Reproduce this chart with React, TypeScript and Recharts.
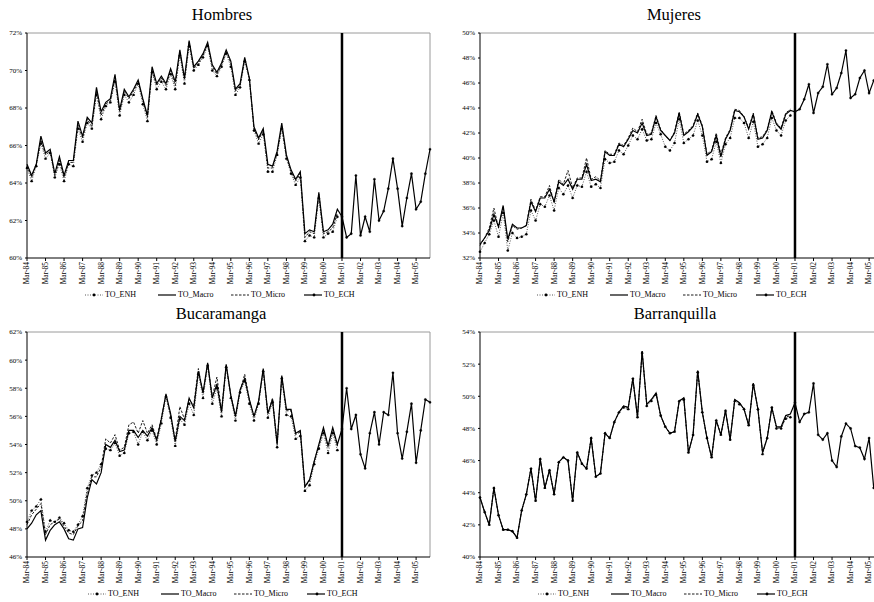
import React from "react";
import { Line, LineChart, ReferenceLine, XAxis, YAxis } from "recharts";

const years = ["84", "85", "86", "87", "88", "89", "90", "91", "92", "93", "94", "95", "96", "97", "98", "99", "00", "01", "02", "03", "04", "05"];
const quarters = ["Mar", "Jun", "Sep", "Dec"];
const categories = years.flatMap((y) => quarters.map((q) => `${q}-${y}`));
const tickLabels = years.map((y) => `Mar-${y}`);
const echStart = categories.indexOf("Mar-01");

// Hombres
const hombresEnh = [
  64.8, 64.1, 64.9, 66.1, 65.3, 65.6, 64.3, 65.0, 64.1, 65.0,
  64.9, 66.9, 66.2, 67.2, 66.9, 68.7, 67.4, 68.1, 68.3, 69.4,
  67.6, 68.7, 68.3, 68.7, 69.3, 68.2, 67.3, 69.9, 69.0, 69.4,
  69.0, 69.8, 69.0, 70.8, 69.3, 71.3, 70.0, 70.3, 70.7, 71.3,
  70.0, 69.7, 70.2, 70.9, 70.2, 68.7, 69.1, 70.5, 69.5, 66.8,
  66.1, 66.6, 64.6, 64.6, 65.5, 66.9, 65.3, 64.5, 63.9, 64.3,
  60.9, 61.2, 61.1, 63.2, 61.1, 61.3, 61.4, 62.2,
];
const hombresMacro = [
  65.0, 64.4, 65.0, 66.5, 65.6, 65.8, 64.5, 65.4, 64.4, 65.2,
  65.2, 67.3, 66.5, 67.5, 67.2, 69.1, 67.8, 68.3, 68.5, 69.8,
  67.9, 69.0, 68.6, 69.0, 69.5, 68.5, 67.6, 70.2, 69.3, 69.7,
  69.3, 70.1, 69.4, 71.1, 69.6, 71.6, 70.2, 70.5, 70.9, 71.5,
  70.3, 69.9, 70.4, 71.1, 70.5, 69.0, 69.3, 70.7, 69.6, 67.0,
  66.4, 66.9, 65.0, 64.9, 65.7, 67.2, 65.5, 64.7, 64.2, 64.6,
  61.3, 61.5, 61.4, 63.5, 61.4, 61.5, 61.8, 62.6, 62.2,
];
const hombresMicro = [
  64.9, 64.3, 65.0, 66.3, 65.5, 65.7, 64.4, 65.2, 64.3, 65.1,
  65.1, 67.1, 66.4, 67.4, 67.0, 68.9, 67.6, 68.2, 68.4, 69.6,
  67.8, 68.9, 68.5, 68.9, 69.4, 68.4, 67.5, 70.0, 69.2, 69.6,
  69.2, 70.0, 69.2, 71.0, 69.5, 71.5, 70.1, 70.4, 70.8, 71.4,
  70.2, 69.8, 70.3, 71.0, 70.4, 68.9, 69.2, 70.6, 69.6, 66.9,
  66.3, 66.8, 64.8, 64.8, 65.6, 67.0, 65.4, 64.6, 64.1, 64.5,
  61.1, 61.4, 61.3, 63.4, 61.3, 61.4, 61.6, 62.4,
];
const hombresEch = [62.2, 61.1, 61.3, 64.4, 61.2, 62.2, 61.4, 64.2, 62.0, 62.5, 63.7, 65.3, 63.7, 61.7, 63.2, 64.5, 62.6, 63.0, 64.5, 65.8];

// Mujeres
const mujeresEnh = [
  32.5, 33.2, 33.9, 35.0, 33.7, 35.6, 32.6, 34.0, 33.6, 33.7,
  33.9, 35.8, 35.0, 36.3, 36.1, 37.0, 35.8, 37.6, 37.1, 37.8,
  36.8, 37.8, 37.7, 38.9, 37.7, 37.9, 37.6, 39.9, 39.6, 39.7,
  40.6, 40.3, 41.0, 41.8, 41.5, 42.3, 41.4, 41.5, 42.8, 41.9,
  40.9, 40.6, 41.2, 43.1, 41.2, 41.5, 41.8, 43.0, 41.8, 39.7,
  39.9, 41.3, 39.6, 41.1, 41.6, 43.2, 43.2, 42.8, 41.6, 42.9,
  40.9, 41.1, 41.6, 43.2, 42.2, 41.8, 43.0, 43.4,
];
const mujeresMacro = [
  33.1, 33.6, 34.2, 35.5, 34.5, 36.2, 33.5, 34.7, 34.4, 34.4,
  34.6, 36.5, 35.7, 36.8, 36.8, 37.5, 36.5, 38.1, 37.8, 38.3,
  37.5, 38.3, 38.3, 39.5, 38.2, 38.3, 38.1, 40.5, 40.2, 40.2,
  41.1, 40.9, 41.5, 42.2, 42.0, 42.8, 41.8, 41.9, 43.3, 42.2,
  41.8, 41.4, 42.0, 43.6, 41.8, 42.1, 42.5, 43.5, 42.5, 40.2,
  40.5, 41.8, 40.1, 41.5, 42.2, 43.8, 43.7, 43.3, 42.3, 43.5,
  41.5, 41.6, 42.2, 43.7, 42.7, 42.3, 43.5, 43.8, 43.7,
];
const mujeresMicro = [
  33.0, 33.6, 34.4, 36.0, 34.4, 36.1, 33.3, 34.6, 34.3, 34.4,
  34.6, 36.7, 35.8, 36.9, 36.9, 37.8, 36.4, 38.3, 37.9, 39.0,
  37.6, 38.4, 38.4, 40.0, 38.3, 38.5, 38.2, 40.6, 40.3, 40.3,
  41.2, 41.0, 41.6, 42.4, 42.1, 43.1, 41.9, 42.0, 43.4, 42.3,
  41.8, 41.4, 42.1, 43.7, 41.9, 42.2, 42.6, 43.6, 42.6, 40.3,
  40.6, 42.0, 40.3, 41.6, 42.3, 43.9, 43.8, 43.3, 42.4, 43.6,
  41.6, 41.7, 42.3, 43.8, 42.8, 42.4, 43.6, 43.9,
];
const mujeresEch = [43.7, 43.9, 44.7, 45.9, 43.6, 45.2, 45.7, 47.5, 45.1, 45.6, 46.8, 48.6, 44.8, 45.1, 46.4, 47.0, 45.2, 46.2, 46.6, 47.1];

// Bucaramanga
const bucaEnh = [
  48.5, 49.3, 49.6, 50.1, 47.8, 48.6, 48.5, 48.8, 48.4, 47.9,
  47.8, 48.3, 48.9, 50.9, 51.8, 52.0, 52.6, 53.7, 53.6, 54.1,
  53.2, 53.4, 54.8, 54.9, 54.0, 54.9, 54.3, 55.0, 54.0, 55.5,
  57.4, 55.9, 53.9, 55.8, 55.4, 56.9, 56.1, 59.0, 57.3, 59.6,
  56.9, 58.0, 56.0, 59.5, 57.3, 55.7, 57.7, 58.5, 56.9, 55.7,
  56.9, 59.2, 55.9, 57.0, 53.8, 58.7, 56.1, 56.0, 54.4, 54.6,
  50.7, 51.1, 52.6, 53.7, 54.8, 53.4, 54.8, 53.6,
];
const bucaMacro = [
  48.0, 48.4, 49.0, 49.3, 47.2, 47.9, 48.3, 48.5, 48.0, 47.3,
  47.2, 48.0, 48.1, 50.2, 51.5, 51.2, 52.0, 54.0, 53.8, 54.3,
  53.5, 53.6, 55.0, 55.0, 54.5, 55.0, 54.6, 55.2, 54.3, 55.8,
  57.6, 56.2, 54.2, 56.0, 55.7, 57.3, 56.6, 59.2, 57.7, 59.8,
  57.3, 58.3, 56.3, 59.7, 57.5, 56.0, 57.9, 58.7, 57.2, 56.0,
  57.1, 59.4, 56.2, 57.2, 54.0, 58.9, 56.5, 56.5, 54.8, 55.0,
  51.0, 51.5, 52.8, 54.0, 55.2, 53.9, 55.2, 54.0, 55.1,
];
const bucaMicro = [
  48.3, 49.0, 49.4, 49.8, 47.6, 48.3, 48.5, 48.7, 48.2, 47.7,
  47.6, 48.2, 48.6, 50.6, 51.7, 51.7, 52.4, 54.4, 54.1, 54.7,
  53.6, 53.8, 55.4, 55.6, 54.8, 55.7, 54.8, 55.4, 54.4, 55.9,
  57.5, 56.1, 54.3, 56.7, 55.8, 57.2, 56.8, 59.4, 57.6, 59.7,
  57.4, 58.8, 56.4, 59.6, 57.5, 56.0, 57.8, 59.0, 57.2, 56.0,
  57.0, 59.3, 56.2, 57.3, 54.1, 58.8, 56.4, 56.4, 54.7, 54.9,
  51.0, 51.4, 52.8, 53.9, 55.1, 53.8, 55.1, 53.9,
];
const bucaEch = [55.1, 58.0, 55.1, 56.1, 53.3, 52.3, 54.8, 56.3, 54.0, 56.3, 56.1, 59.1, 54.8, 53.0, 54.9, 56.9, 52.7, 55.0, 57.2, 57.0];

// Barranquilla
const barraEnh = [
  43.7, 42.8, 42.0, 44.3, 42.6, 41.7, 41.7, 41.6, 41.2, 42.9,
  43.9, 45.5, 43.5, 46.1, 44.3, 45.4, 43.9, 45.9, 46.2, 46.0,
  43.5, 46.5, 45.8, 45.5, 47.4, 45.0, 45.2, 47.7, 47.4, 48.4,
  49.0, 49.3, 49.2, 51.1, 48.7, 52.7, 49.4, 49.7, 50.1, 48.8,
  48.1, 47.7, 47.8, 49.7, 49.8, 46.5, 47.6, 51.5, 49.0, 47.4,
  46.2, 48.5, 47.6, 49.1, 47.3, 49.7, 49.5, 49.2, 48.2, 50.7,
  49.2, 46.4, 47.4, 49.3, 48.0, 48.0, 48.6, 48.7,
];
const barraMacro = [
  43.7, 42.8, 42.0, 44.3, 42.6, 41.7, 41.7, 41.6, 41.2, 42.9,
  43.9, 45.5, 43.5, 46.1, 44.3, 45.4, 43.9, 45.9, 46.2, 46.0,
  43.5, 46.5, 45.8, 45.5, 47.4, 45.0, 45.2, 47.7, 47.4, 48.4,
  49.0, 49.4, 49.3, 51.1, 48.7, 52.8, 49.5, 49.8, 50.2, 48.8,
  48.1, 47.7, 47.8, 49.7, 49.9, 46.5, 47.6, 51.6, 49.0, 47.4,
  46.2, 48.5, 47.6, 49.1, 47.3, 49.8, 49.6, 49.2, 48.2, 50.8,
  49.2, 46.5, 47.4, 49.3, 48.1, 48.1, 48.8, 48.9, 49.6,
];
const barraMicro = [
  43.7, 42.8, 42.0, 44.3, 42.6, 41.7, 41.7, 41.6, 41.2, 42.9,
  43.9, 45.5, 43.5, 46.1, 44.3, 45.4, 43.9, 45.9, 46.2, 46.0,
  43.5, 46.5, 45.8, 45.5, 47.4, 45.0, 45.2, 47.7, 47.4, 48.4,
  49.0, 49.4, 49.3, 51.1, 48.7, 52.8, 49.5, 49.8, 50.2, 48.8,
  48.1, 47.7, 47.8, 49.7, 49.9, 46.5, 47.6, 51.6, 49.0, 47.4,
  46.2, 48.5, 47.6, 49.1, 47.3, 49.8, 49.6, 49.2, 48.2, 50.8,
  49.2, 46.5, 47.4, 49.3, 48.1, 48.0, 48.7, 48.8,
];
const barraEch = [49.6, 48.4, 48.9, 49.0, 50.8, 47.6, 47.3, 47.7, 46.0, 45.6, 47.5, 48.3, 48.0, 46.9, 46.8, 46.1, 47.4, 44.3, 44.0, 44.6];

const hombresTicks = [60, 62, 64, 66, 68, 70, 72];
const mujeresTicks = [32, 34, 36, 38, 40, 42, 44, 46, 48, 50];
const bucaTicks = [46, 48, 50, 52, 54, 56, 58, 60, 62];
const barraTicks = [40, 42, 44, 46, 48, 50, 52, 54];

const legendNames = ["TO_ENH", "TO_Macro", "TO_Micro", "TO_ECH"];

const FONT = '"Liberation Serif", "Times New Roman", serif';

function buildRows(enh: number[], macro: number[], micro: number[], ech: number[]) {
  return categories.map((label, i) => ({
    label,
    enh: i < enh.length ? enh[i] : null,
    macro: i < macro.length ? macro[i] : null,
    micro: i < micro.length ? micro[i] : null,
    ech: i >= echStart ? ech[i - echStart] : null,
  }));
}

function RotatedTick(props: any) {
  const { x, y, payload } = props;
  return (
    <text
      x={x}
      y={y}
      transform={`rotate(-90, ${x}, ${y})`}
      textAnchor="end"
      dy="0.32em"
      fontSize={7.5}
      fontFamily={FONT}
      fill="#000"
    >
      {payload.value}
    </text>
  );
}

function LegendSample({ kind }: { kind: number }) {
  return (
    <svg width={18} height={8} style={{ display: "block" }}>
      {kind === 0 && (
        <>
          <line x1={0} y1={4} x2={18} y2={4} stroke="#444" strokeWidth={0.9} strokeDasharray="1 1.5" />
          <circle cx={9} cy={4} r={1.4} fill="#000" />
        </>
      )}
      {kind === 1 && <line x1={0} y1={4} x2={18} y2={4} stroke="#000" strokeWidth={1.2} />}
      {kind === 2 && <line x1={0} y1={4} x2={18} y2={4} stroke="#000" strokeWidth={0.9} strokeDasharray="2.5 1.5" />}
      {kind === 3 && (
        <>
          <line x1={0} y1={4} x2={18} y2={4} stroke="#000" strokeWidth={1.2} />
          <circle cx={10} cy={4} r={1.4} fill="#000" />
        </>
      )}
    </svg>
  );
}

interface PanelProps {
  title: string;
  left: number;
  top: number;
  yAxisWidth: number;
  titleX: number;
  legendX: number;
  domain: [number, number];
  ticks: number[];
  data: ReturnType<typeof buildRows>;
}

function Panel({ title, left, top, yAxisWidth, titleX, legendX, domain, ticks, data }: PanelProps) {
  const width = yAxisWidth + 403 + 10;
  return (
    <>
      <div
        style={{
          position: "absolute",
          left: titleX - 100,
          top: top + 5,
          width: 200,
          textAlign: "center",
          fontSize: 16.5,
          lineHeight: "20px",
        }}
      >
        {title}
      </div>
      <div style={{ position: "absolute", left, top }}>
        <LineChart width={width} height={286} data={data} margin={{ top: 33, right: 10, bottom: 0, left: 0 }}>
          <XAxis
            dataKey="label"
            ticks={tickLabels}
            interval={0}
            tick={<RotatedTick />}
            tickSize={3}
            tickMargin={1}
            height={28}
            stroke="#000"
            tickLine={{ stroke: "#000" }}
          />
          <YAxis
            domain={domain}
            ticks={ticks}
            allowDataOverflow
            width={yAxisWidth}
            tickSize={2}
            tickMargin={3}
            tickFormatter={(v) => `${v}%`}
            tick={{ fontSize: 7, fontFamily: FONT, fill: "#000" }}
            stroke="#000"
          />
          <ReferenceLine y={domain[1]} stroke="#9a9a9a" strokeWidth={1} />
          <ReferenceLine x="Dec-05" stroke="#9a9a9a" strokeWidth={1} />
          <Line
            dataKey="enh"
            stroke="#444"
            strokeWidth={0.9}
            strokeDasharray="1 1.5"
            dot={{ r: 1.2, fill: "#000", stroke: "#000", strokeWidth: 0.4 }}
            isAnimationActive={false}
          />
          <Line dataKey="micro" stroke="#000" strokeWidth={0.9} strokeDasharray="2.5 1.5" dot={false} isAnimationActive={false} />
          <Line dataKey="macro" stroke="#000" strokeWidth={1.2} dot={false} isAnimationActive={false} />
          <Line
            dataKey="ech"
            stroke="#000"
            strokeWidth={1.2}
            dot={{ r: 1.1, fill: "#000", stroke: "#000", strokeWidth: 0.4 }}
            isAnimationActive={false}
          />
          <ReferenceLine x="Mar-01" stroke="#000" strokeWidth={2.5} />
        </LineChart>
      </div>
      {legendNames.map((name, i) => (
        <div
          key={name}
          style={{
            position: "absolute",
            left: legendX + i * 73,
            top: top + 291,
            display: "flex",
            alignItems: "center",
            gap: 2,
            fontSize: 8,
            lineHeight: "8px",
            whiteSpace: "nowrap",
          }}
        >
          <LegendSample kind={i} />
          <span>{name}</span>
        </div>
      ))}
    </>
  );
}

export default function App() {
  return (
    <div
      style={{
        position: "fixed",
        left: 0,
        top: 0,
        width: 874,
        height: 602,
        overflow: "hidden",
        background: "#fff",
        fontFamily: FONT,
        color: "#000",
      }}
    >
      <Panel
        title="Hombres"
        left={0}
        top={0}
        yAxisWidth={27}
        titleX={222}
        legendX={85}
        domain={[60, 72]}
        ticks={hombresTicks}
        data={buildRows(hombresEnh, hombresMacro, hombresMicro, hombresEch)}
      />
      <Panel
        title="Mujeres"
        left={437}
        top={0}
        yAxisWidth={43}
        titleX={674}
        legendX={537}
        domain={[32, 50]}
        ticks={mujeresTicks}
        data={buildRows(mujeresEnh, mujeresMacro, mujeresMicro, mujeresEch)}
      />
      <Panel
        title="Bucaramanga"
        left={0}
        top={299}
        yAxisWidth={27}
        titleX={221}
        legendX={88}
        domain={[46, 62]}
        ticks={bucaTicks}
        data={buildRows(bucaEnh, bucaMacro, bucaMicro, bucaEch)}
      />
      <Panel
        title="Barranquilla"
        left={437}
        top={299}
        yAxisWidth={43}
        titleX={675}
        legendX={538}
        domain={[40, 54]}
        ticks={barraTicks}
        data={buildRows(barraEnh, barraMacro, barraMicro, barraEch)}
      />
    </div>
  );
}
